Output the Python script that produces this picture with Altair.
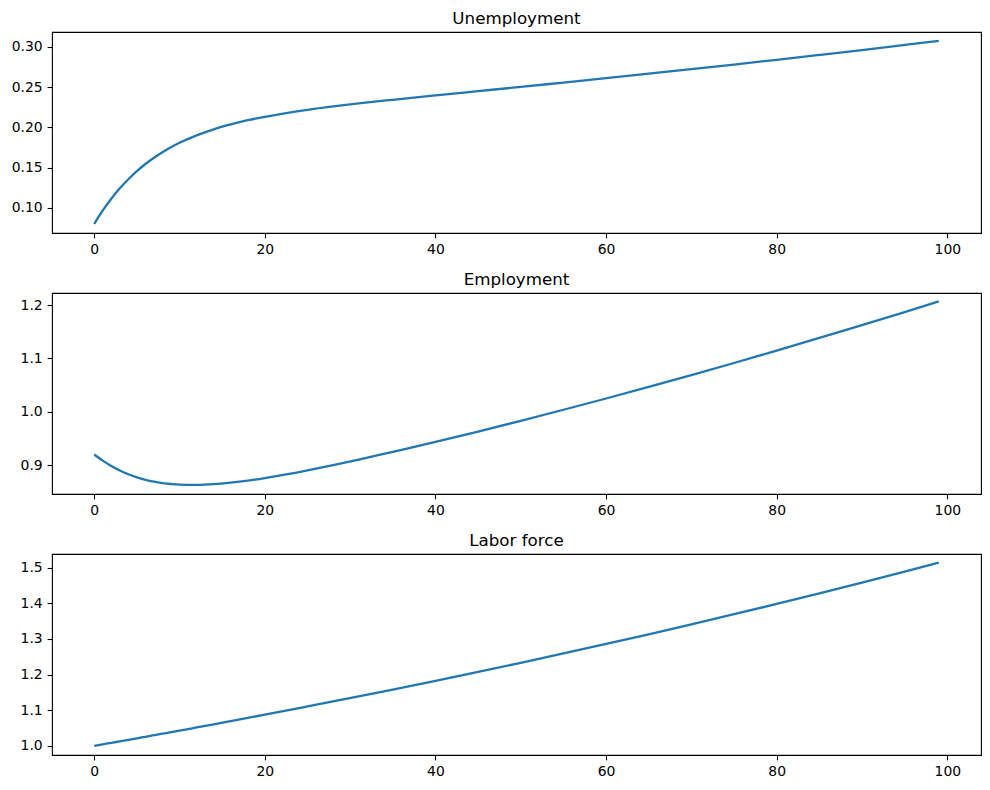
import altair as alt
import pandas as pd

# Values
periods = [0, 1, 2, 3, 4, 5, 6, 7, 8, 9, 10, 12, 14, 16, 18, 20, 22, 25, 28, 31,
           35, 40, 45, 50, 55, 60, 65, 70, 75, 80, 85, 90, 95, 99]

unemployment = [0.0800, 0.0967, 0.1113, 0.1242, 0.1355, 0.1455, 0.1544, 0.1622,
                0.1691, 0.1753, 0.1808, 0.1900, 0.1975, 0.2036, 0.2088, 0.2130,
                0.2168, 0.2217, 0.2259, 0.2297, 0.2342, 0.2396, 0.2449, 0.2502,
                0.2556, 0.2610, 0.2666, 0.2722, 0.2780, 0.2839, 0.2899, 0.2960,
                0.3023, 0.3074]

employment = [0.9200, 0.9085, 0.8985, 0.8900, 0.8829, 0.8772, 0.8726, 0.8691,
              0.8665, 0.8647, 0.8635, 0.8631, 0.8644, 0.8673, 0.8711, 0.8759,
              0.8813, 0.8903, 0.9001, 0.9104, 0.9250, 0.9435, 0.9630, 0.9831,
              1.0038, 1.0249, 1.0466, 1.0688, 1.0914, 1.1147, 1.1383, 1.1623,
              1.1868, 1.2068]

labor_force = [1.0000, 1.0042, 1.0084, 1.0127, 1.0169, 1.0212, 1.0255, 1.0298,
               1.0341, 1.0385, 1.0428, 1.0516, 1.0604, 1.0694, 1.0784, 1.0874,
               1.0966, 1.1105, 1.1245, 1.1387, 1.1580, 1.1825, 1.2076, 1.2331,
               1.2593, 1.2859, 1.3132, 1.3410, 1.3694, 1.3984, 1.4280, 1.4582,
               1.4891, 1.5143]

x_ticks = [0, 20, 40, 60, 80, 100]
u_ticks = [0.10, 0.15, 0.20, 0.25, 0.30]
e_ticks = [0.9, 1.0, 1.1, 1.2]
l_ticks = [1.0, 1.1, 1.2, 1.3, 1.4, 1.5]

df = pd.DataFrame({"t": periods, "U": unemployment, "E": employment, "L": labor_force})

FONT = "DejaVu Sans"
BLUE = "#1f77b4"


def panel(field, title, domain, ticks, fmt):
    return (
        alt.Chart(df)
        .mark_line(color=BLUE, strokeWidth=2.3, interpolate="monotone")
        .encode(
            x=alt.X("t:Q",
                    scale=alt.Scale(domain=[-4.95, 103.95], nice=False, zero=False),
                    axis=alt.Axis(values=x_ticks, format="d", title=None)),
            y=alt.Y(f"{field}:Q",
                    scale=alt.Scale(domain=domain, nice=False, zero=False),
                    axis=alt.Axis(values=ticks, format=fmt, title=None)),
        )
        .properties(
            width=929, height=201,
            title=alt.TitleParams(title, font=FONT, fontSize=16.7, fontWeight="normal",
                                  color="black", anchor="middle", baseline="top",
                                  offset=4.8),
        )
    )


top = panel("U", "Unemployment", [0.0687, 0.3184], u_ticks, ".2f")
mid = panel("E", "Employment", [0.846, 1.2225], e_ticks, ".1f")
bot = panel("L", "Labor force", [0.9743, 1.5385], l_ticks, ".1f")

chart = (
    alt.vconcat(top, mid, bot, spacing=60, bounds="flush")
    .properties(padding={"left": 2, "top": 1, "right": 0, "bottom": 4})
    .configure(background="white")
    .configure_view(stroke="black", strokeWidth=1.1, fill="white")
    .configure_axis(
        domain=False, grid=False,
        tickColor="black", tickWidth=1.1, tickSize=4.9,
        labelPadding=4.9, labelFont=FONT, labelFontSize=13.9, labelColor="black",
    )
)

chart.save("out.html", embed_options={"renderer": "svg", "actions": False})
